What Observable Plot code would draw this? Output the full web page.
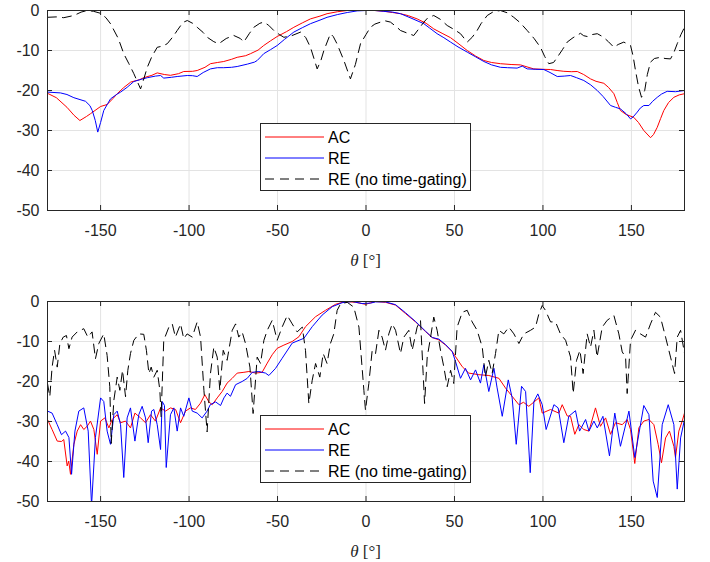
<!DOCTYPE html>
<html>
<head>
<meta charset="utf-8">
<script src="https://cdn.jsdelivr.net/npm/d3@7"></script>
<script src="https://cdn.jsdelivr.net/npm/@observablehq/plot@0.6"></script>
<style>
  html, body { margin: 0; padding: 0; background: #fff; }
  #chart svg { display: block; }
</style>
</head>
<body>
<div id="chart"></div>
<script>
// ---------- Data ----------
const seriesNames = ["AC", "RE", "RE (no time-gating)"];
const xTicks = [-150, -100, -50, 0, 50, 100, 150];
const yTicks = [-50, -40, -30, -20, -10, 0];

// Top panel
const topAC_theta = [-180,-175,-169,-165,-161.7,-158,-155.7,-150,-146.3,-143,-140.6,-137,-133,-128,-125.6,-121,-118,-114,-110.5,-106,-103,-98,-95.4,-91,-87.9,-84,-80.4,-76,-72.8,-68,-65.3,-61,-57.8,-54,-50.2,-45,-40.8,-36,-31.4,-26,-22,-16,-10.6,-5,0,5,10.1,15,19.5,24,28.9,34,38.3,43,47.8,52,57.2,62,66.6,71,76,82,87.3,91,94.8,100,104.3,108,111.8,116,119.4,123,126.9,130,134.4,137,140.1,142,143.8,147,151.3,154,157,160.8,162.5,164.6,166.5,168.3,171,174,177,180];
const topAC = [-20.7,-21.8,-24.2,-26.2,-27.5,-26.5,-25.8,-24,-23.5,-22,-20.8,-19.3,-17.9,-17.3,-16.8,-16.2,-15.6,-16,-16.2,-15.8,-15.25,-15.2,-15,-14.2,-13.3,-13,-12.75,-12.2,-11.7,-11.3,-10.8,-9.9,-8.75,-7.6,-6.5,-5.3,-4.2,-3.1,-2.1,-1.4,-0.8,-0.3,0,0,0,0,-0.2,-0.5,-0.8,-1.3,-2.1,-3.2,-4.6,-5.7,-6.8,-8.2,-10,-11.4,-12.5,-13,-13.3,-13.5,-13.6,-14.1,-14.6,-14.7,-14.75,-15,-15.2,-15.3,-15.25,-16,-17.1,-17.7,-18.2,-19.2,-20.8,-23,-25,-26,-26.7,-28,-30,-31.8,-31,-29.2,-27,-25,-23,-21.7,-21.1,-20.8];

const topRE_theta = [-180,-172.7,-169,-165.1,-158.5,-156,-154.7,-153,-151.6,-150,-148.2,-146,-144.4,-141,-138.7,-135,-131.2,-127,-123.6,-119,-116.1,-114.3,-110,-106.7,-101,-98,-95.4,-92,-87.9,-84,-80.4,-76,-72.8,-67,-63,-61.5,-59.5,-57.8,-54,-50.2,-46,-40.8,-36,-31.4,-26,-22,-16,-10.6,-5,0,5,10.1,15,19.5,26,32.7,36,40.2,44,47.8,52,57.2,62,66.6,71,76,80,85.4,88.3,91.1,96,100.5,104,108.1,112,115.6,119,123.1,127,130.7,134,138.2,141,143.8,147,149.5,151,153.3,155,157,159.9,162,164.6,167,170.2,175,180];
const topRE = [-20.4,-20.6,-21,-21.8,-22.7,-23.8,-25,-27.5,-30.4,-28,-25,-23.3,-22.1,-21,-20.4,-19.2,-17.75,-17.2,-16.8,-16.4,-16.25,-16.9,-16.7,-16.5,-16.25,-16.3,-16.5,-15.5,-14.6,-14.3,-14.3,-14.2,-14,-13.4,-12.9,-12.5,-11.6,-10.8,-9.8,-8.75,-7.2,-5.4,-4.3,-3.3,-2.4,-1.7,-1,-0.5,-0.1,0,0,-0.2,-0.4,-0.8,-2.0,-3.3,-4.4,-5.8,-6.8,-7.9,-9.1,-10.4,-11.6,-12.75,-13.6,-14.2,-14.3,-14.4,-13.9,-14.6,-14.7,-14.75,-15.5,-16.5,-16.4,-16.25,-16.8,-17.5,-18.6,-20,-21.5,-23.75,-24.2,-24.6,-25.8,-27.1,-26.6,-25.4,-24.4,-23.75,-23.75,-22.7,-21.7,-20.9,-20.2,-20.3,-20];

const topNG_theta = [-180,-175,-170.8,-165.1,-161,-157.6,-154,-150,-147,-144.4,-140,-136.9,-134,-131.2,-127.4,-125.5,-123.6,-121,-118,-115,-112.3,-109,-106.7,-103.5,-101,-98,-95.4,-92,-89.7,-86,-83.2,-79,-74.7,-71,-69.1,-66,-63.4,-60,-57.8,-55,-52.1,-49,-46.4,-42,-37,-34,-31.4,-29.4,-27.6,-25.5,-23.8,-20.1,-18.5,-16.4,-12.5,-8.8,-6,-3.1,0,2.5,5,8.2,11,13.8,17,19.5,23,27,30,32.7,35,38.3,42,45.9,50,53.4,57.2,60,62.8,65,68.5,72,76,80,83.5,87,91.1,95,98.6,101,103.3,106,108.1,111,113.7,117,121.2,123,125,128,130.7,134,137,140.1,142.5,145.7,147.5,149.5,151,152.3,154,155.7,157.5,159,160.8,163,166.4,169,172.1,174,175.9,178,180];
const topNG = [-1.7,-1.6,-1.8,-1.25,-0.4,0,-0.2,-0.7,-1.8,-3.3,-7,-10.8,-13.3,-15.8,-19.6,-17,-14.2,-11.5,-9.2,-8.9,-8.3,-6.5,-5,-3,-2.5,-3.2,-4.2,-5.5,-6.7,-7.8,-8.3,-7,-6.25,-7,-7.9,-5.8,-4.2,-3.2,-2.9,-3.7,-5,-6,-6.7,-6.3,-5.4,-6.8,-9.2,-12,-14.6,-12.5,-10,-5.8,-6.5,-8.3,-12.5,-17.1,-13.5,-8.3,-6,-4.2,-3.4,-2.9,-2.6,-2.9,-4,-5,-5.6,-6.25,-4.5,-2.9,-1.8,-1.25,-2.2,-3.75,-4.8,-5.8,-7.9,-6.7,-5,-3.3,-1.25,-0.3,0,-0.6,-1.7,-3,-5,-7,-9.2,-11.5,-13.3,-13,-11.7,-9.8,-7.9,-6.8,-5.7,-6.3,-6.5,-6,-5.8,-6.6,-7.8,-9.2,-8.5,-7.9,-8.3,-8.75,-11.5,-15,-19,-21.7,-20,-16,-12.9,-12,-11.7,-12,-12.1,-10.5,-8.3,-6,-4.2];

// Bottom panel
const botAC_theta = [-180,-177.4,-174.5,-172.1,-170.8,-168.9,-168,-167,-165.1,-163.2,-161.3,-159.5,-157.6,-155.7,-153.8,-151.9,-150,-147.6,-145.3,-143.5,-140.6,-138.7,-135.9,-133.1,-130.6,-127.4,-124.6,-121.8,-119,-116.1,-113.3,-110.5,-107.6,-104.8,-102,-99.2,-96.4,-93.5,-91.1,-88.8,-86.9,-84.1,-81.3,-78.5,-75.6,-72.8,-69,-66.2,-62.4,-58.7,-55.8,-53,-50.2,-46.4,-41.7,-37.9,-34.2,-28.5,-22.9,-17.2,-11.6,-5.9,-0.3,5.4,11,16.7,22.3,28,33.6,37.4,41.2,45,48.7,50.6,54.4,58.1,63.8,69.4,75.1,78.8,82.6,86.4,89,92,97.7,99.6,104.3,109,110.9,113.7,115.6,118,120.3,123.1,126,129.7,132.5,135.4,138.2,141,144.8,147.6,149.5,151.9,154.2,157,159.9,162.7,165.1,167,169.3,171.5,174,174.9,176.8,178.7,180];
const botAC = [-29.5,-32,-34.9,-35,-34.5,-41.1,-39.9,-43.2,-35.7,-32.4,-30.8,-32,-31.2,-29.9,-32,-38.2,-29.9,-29.1,-31.6,-29.5,-28.3,-30.3,-29.9,-31.6,-27.9,-29.1,-30.3,-28.3,-29.9,-26.6,-27.4,-26.6,-27,-30.3,-27.4,-26.6,-27,-25.4,-23.3,-25.1,-25.8,-24.1,-22.5,-20.4,-19.2,-17.9,-17.7,-17.5,-17.9,-17.7,-15.4,-13.3,-11.7,-10.9,-10,-8.8,-6.3,-3.8,-2.2,-0.7,0,-0.2,-0.7,0,-0.2,-0.9,-3,-5.1,-7.5,-9,-9.6,-10.9,-12.5,-13.8,-16.3,-17.9,-18.3,-18.5,-19.2,-21.6,-23.7,-25.8,-25.2,-26.2,-24.1,-27.9,-27,-27.9,-25.8,-28.6,-28.7,-33.2,-30.8,-32,-32.4,-26.6,-31.2,-29.1,-33.2,-30.3,-30.8,-29.5,-32,-40.5,-31.6,-29.9,-29.5,-30.8,-35.7,-40.3,-34.1,-32.4,-36.2,-39,-32.4,-29.9,-27.9];

const botRE_theta = [-180,-177.4,-174.5,-172.1,-169.8,-167.9,-166.4,-164.5,-162.3,-159.5,-157,-155.1,-152.9,-150,-148.2,-146.3,-144.4,-142.5,-140.6,-138.7,-136.9,-135,-133.1,-130.6,-128.4,-126.5,-124.6,-123.1,-121.2,-119.9,-118,-116.1,-115.2,-113.9,-112.9,-110.5,-108.6,-106.7,-104.8,-103,-100.1,-98.2,-95.4,-92.6,-89.8,-88,-85,-82.2,-80.3,-78.5,-76.6,-73.7,-70,-67.1,-64.3,-60.6,-56.8,-54.9,-51.1,-47.4,-41.7,-35.1,-30.4,-24.8,-19.1,-13.5,-7.8,-2.2,2.6,5.4,11,16.7,22.3,28,33.6,37.4,41.2,45,48.7,50.6,53.4,56.2,59.1,61.9,64.7,66.6,69.4,72.3,74.1,77,80.4,82.6,84.9,87.9,90.2,92.8,94.9,97.1,99.6,101.8,106.2,108.6,111.8,114.6,118.4,120.7,124.1,126,128.8,130.7,133.9,137.6,140.6,143.8,148.6,151.9,157,159.9,162.3,164.6,167.4,170.8,174,175.9,177.8,180];
const botRE = [-27.4,-27.9,-30.8,-33.3,-32.4,-34,-43.2,-32.4,-27.4,-26.6,-32.4,-51,-34,-24.1,-25,-32.4,-35.7,-28.3,-27.4,-30.8,-44,-29.1,-26.6,-34.9,-28.3,-26.2,-29.1,-35.3,-27.4,-27,-30.8,-37,-25,-26,-41.5,-28.3,-26.6,-32.4,-26.6,-28.7,-24.1,-27.4,-27.9,-29.1,-27.4,-25.8,-25.1,-26,-24.1,-22.9,-23.7,-20.8,-20,-19.2,-17.7,-17.5,-17.9,-18.5,-16.7,-14.2,-10.4,-9.2,-6.3,-3.4,-1.3,-0.3,0,-0.5,-0.4,-0.1,-0.1,-0.8,-2.8,-5,-7.4,-9,-9.4,-10.8,-12.5,-15,-19.2,-16.7,-19.6,-17.1,-20.4,-15.8,-22.5,-16.7,-21.6,-28.7,-19.6,-24.1,-35.7,-21.2,-22.5,-42.8,-25,-23.1,-25.8,-32,-25.8,-26.6,-35.3,-28.7,-27.3,-32.4,-29.5,-32.4,-29.9,-31.6,-28.7,-38.6,-27.9,-36.2,-27.4,-39,-26,-28.3,-44.9,-49,-30.8,-25.8,-30.8,-46.9,-34.1,-29.5];

const botNG_theta = [-180,-178.7,-177.4,-176,-174.5,-173,-171.1,-169.3,-167.9,-166.1,-163.2,-159.5,-157.2,-154.8,-152.9,-151,-148.2,-146.3,-144.8,-144,-142.5,-140.6,-139.1,-137.6,-135.9,-134.6,-133.1,-131.2,-128.4,-125.6,-124.1,-122.7,-121.4,-119.9,-118,-116.5,-115.8,-114.3,-111.4,-109.5,-107.7,-104.8,-103,-101.1,-98.2,-95.4,-93.5,-91.6,-89.8,-87.9,-86,-84.1,-82.6,-80.7,-78.5,-75.6,-73.7,-71.9,-70,-68.1,-65.6,-63.8,-61.5,-59.6,-57.7,-55.8,-53,-50.2,-47.4,-44.5,-41.7,-38.9,-36,-34.2,-32.3,-30.4,-28.5,-26.1,-24.2,-22,-20.1,-18.2,-16.3,-14.4,-10.6,-6.9,-4,-1.2,-0.3,1.6,3.5,5.4,7.3,9.1,11,12.9,14.8,16.7,19.5,21.4,24.2,26.1,28.9,30.8,32.3,33.1,34.6,36.5,38.3,40.2,42.1,44,45.9,47.8,49.6,51.5,54.4,57.2,60,62.8,65.7,67.5,69.4,71.3,73.2,75.1,77.9,80.7,83.6,86.4,89.2,93,95.8,97.7,99.6,101.4,104.3,107.1,109.9,112.8,115.6,117.1,119,120.9,122.7,125,126.9,128.8,130.6,133.5,136.3,140.1,142.9,144.8,146.7,147.6,149.5,152.3,155.1,158,160.8,163.6,166.4,169.3,172.1,174.4,175.9,177.8,180];
const botNG = [-20.5,-23.8,-16.4,-12.2,-16.4,-10.5,-8.9,-8.5,-11.8,-8.9,-7.6,-6.8,-8.9,-7.6,-14.3,-10.5,-8.1,-13.5,-21.3,-35.5,-24.7,-18.9,-22.2,-17.2,-23.8,-17.2,-13,-9.7,-8.1,-8.2,-12.2,-18,-16.4,-18.9,-17.2,-22.2,-28.8,-9.7,-6.4,-5.6,-8.9,-5.6,-9.3,-8.1,-8.9,-5.1,-8.9,-22.2,-32.6,-18,-11.4,-13.9,-22.2,-12.2,-14.7,-7.2,-5.6,-8.9,-7.6,-10.5,-16.4,-28,-13.9,-15.5,-9.7,-7.2,-4.7,-9.7,-6.4,-3.5,-5.6,-7.6,-6.4,-12.2,-25.5,-19.7,-15.5,-18.9,-13,-15.5,-10.5,-8.1,-2.2,-0.6,-0.2,-1.4,-6.4,-22.2,-27.2,-20.5,-12.2,-13,-7.2,-8.9,-12.2,-8.1,-5.6,-7.2,-13,-8.9,-7.2,-12.2,-6.4,-4.7,-18,-25.5,-13.9,-8.9,-3.9,-7.2,-12.2,-16.4,-21.3,-17.2,-20.5,-6.4,-2.7,-2.2,-5.1,-7.2,-11.4,-18.9,-14.7,-18,-13,-7.2,-8.1,-6.4,-8.1,-10.5,-8.1,-7.2,-6.4,-3.1,-1,-2.2,-5.1,-5.1,-8.1,-9.7,-13.9,-23,-14.7,-12.2,-18,-8.1,-11.4,-7.2,-13.9,-6.4,-4.7,-3.5,-8.1,-12.6,-13.9,-23,-9.7,-7.2,-8.1,-8.9,-5.6,-2.7,-3.9,-8.9,-13.9,-18,-8.9,-7.2,-13];

// ---------- Helpers ----------
const colors = {AC: "#ff0000", RE: "#0000ff", NG: "#000000"};
const ink = "#262626";
const dashPattern = "9,6";
const rows = (th, vals) => th.map((t, i) => ({theta: t, v: vals[i]}));

function panel(acT, ac, reT, re, ngT, ng, cfg) {
  const W = 710, mL = 47, mR = 26;
  const plotW = W - mL - mR;
  const plotH = cfg.height - cfg.mt - cfg.mb;
  const lineOpts = {x: "theta", y: "v", strokeWidth: 1, clip: true};
  const chart = Plot.plot({
    width: W,
    height: cfg.height,
    marginLeft: mL,
    marginRight: mR,
    marginTop: cfg.mt,
    marginBottom: cfg.mb,
    style: {fontFamily: "'Liberation Sans', Arial, Helvetica, sans-serif", fontSize: "16px", color: ink, background: "#fff"},
    x: {domain: [-180, 180], ticks: xTicks, tickFormat: d => String(d), label: null, tickSize: 0, tickPadding: 14},
    y: {domain: [-50, 0], ticks: yTicks, tickFormat: d => String(d), label: null, tickSize: 0, tickPadding: 8},
    marks: [
      Plot.ruleX(xTicks, {x: d => d, stroke: "#e3e3e3"}),
      Plot.ruleY(yTicks, {y: d => d, stroke: "#e3e3e3"}),
      Plot.line(rows(acT, ac), {...lineOpts, stroke: colors.AC}),
      Plot.line(rows(reT, re), {...lineOpts, stroke: colors.RE}),
      Plot.line(rows(ngT, ng), {...lineOpts, stroke: colors.NG, strokeDasharray: dashPattern}),
      // inward ticks on all four sides
      Plot.ruleX(xTicks, {x: d => d, stroke: ink, insetTop: plotH - 5}),
      Plot.ruleX(xTicks, {x: d => d, stroke: ink, insetBottom: plotH - 5}),
      Plot.ruleY(yTicks, {y: d => d, stroke: ink, insetRight: plotW - 5}),
      Plot.ruleY(yTicks, {y: d => d, stroke: ink, insetLeft: plotW - 5}),
      Plot.frame({stroke: ink, strokeWidth: 1})
    ]
  });

  const svg = d3.select(chart);
  const xs = chart.scale("x");
  const plotBottom = cfg.height - cfg.mb;

  // x-axis label: italic theta + [°]
  const lab = svg.append("text")
    .attr("x", xs.apply(0))
    .attr("y", plotBottom + 56)
    .attr("text-anchor", "middle")
    .attr("fill", ink)
    .style("font-size", "17px")
    .style("font-family", "'Liberation Serif', 'DejaVu Serif', serif");
  lab.append("tspan").style("font-style", "italic").text("θ");
  lab.append("tspan").text(" [°]");

  // legend
  const lx = mL + 213, ly = cfg.mt + cfg.legendTop, lw = 210, lh = 67;
  const g = svg.append("g").attr("text-anchor", "start");
  g.append("rect").attr("x", lx + 0.5).attr("y", ly + 0.5).attr("width", lw).attr("height", lh)
    .attr("fill", "#fff").attr("stroke", ink).attr("stroke-width", 1);
  const entries = [
    {name: seriesNames[0], color: colors.AC, dash: null},
    {name: seriesNames[1], color: colors.RE, dash: null},
    {name: seriesNames[2], color: colors.NG, dash: dashPattern}
  ];
  entries.forEach((e, i) => {
    const yy = ly + 14 + i * 21;
    g.append("line").attr("x1", lx + 5).attr("x2", lx + 64).attr("y1", yy).attr("y2", yy)
      .attr("stroke", e.color).attr("stroke-width", 1).attr("stroke-dasharray", e.dash);
    g.append("text").attr("x", lx + 68).attr("y", yy + 6).attr("fill", "#000")
      .attr("text-anchor", "start")
      .style("font-size", "16px").text(e.name);
  });
  return chart;
}

const root = document.getElementById("chart");
root.appendChild(panel(topAC_theta, topAC, topRE_theta, topRE, topNG_theta, topNG,
  {height: 280, mt: 10, mb: 70, legendTop: 113}));
root.appendChild(panel(botAC_theta, botAC, botRE_theta, botRE, botNG_theta, botNG,
  {height: 282, mt: 21, mb: 61, legendTop: 114}));
</script>
</body>
</html>
